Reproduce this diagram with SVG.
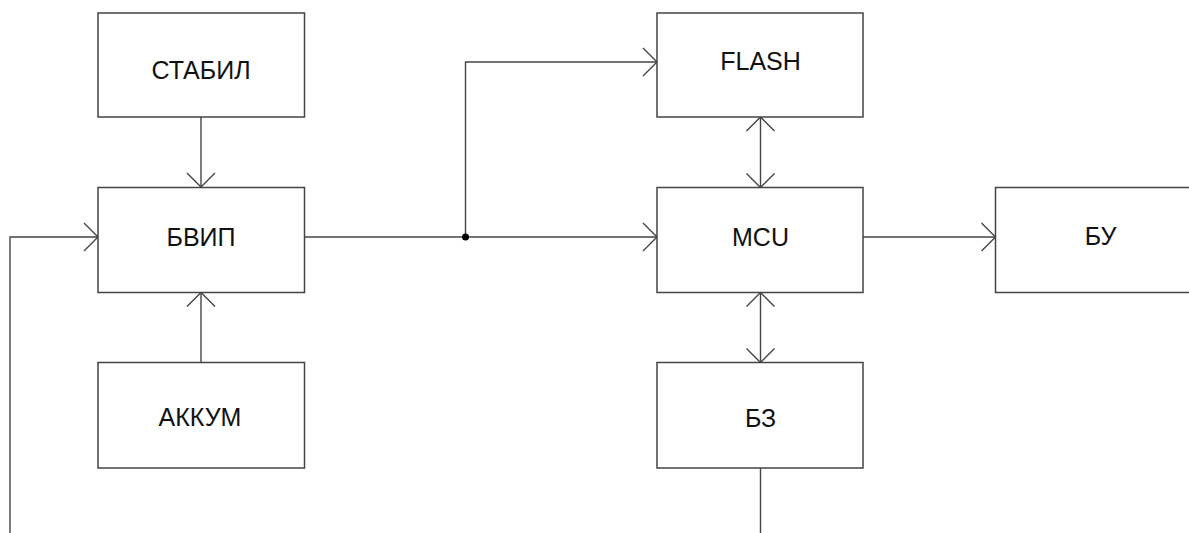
<svg xmlns="http://www.w3.org/2000/svg" width="1189" height="533" viewBox="0 0 1189 533">
<defs>
<style>
.box{fill:#fff;stroke:#444;stroke-width:1.5}
.lbl{font-family:"Liberation Sans",Arial,sans-serif;font-size:25px;fill:#111;text-anchor:middle}
.con{fill:none;stroke:#444;stroke-width:1.4}
</style>
<marker id="arr" markerUnits="userSpaceOnUse" markerWidth="32" markerHeight="32" viewBox="-16 -16 32 32" refX="0" refY="0" orient="auto-start-reverse">
<path d="M-14,-14 L0,0 L-14,14" fill="none" stroke="#444" stroke-width="1.4"/>
</marker>
</defs>
<rect width="1189" height="533" fill="#fff"/>
<g id="connectors">
<path class="con" d="M201,117 V187" marker-end="url(#arr)"/>
<path class="con" d="M201,362.5 V292.5" marker-end="url(#arr)"/>
<path class="con" d="M10,533 V237 H98" marker-end="url(#arr)"/>
<path class="con" d="M304.5,237 H657" marker-end="url(#arr)"/>
<path class="con" d="M465.5,237 V62 H657" marker-end="url(#arr)"/>
<circle cx="465.5" cy="237" r="3.5" fill="#000"/>
<path class="con" d="M760.5,117 V187.5" marker-start="url(#arr)" marker-end="url(#arr)"/>
<path class="con" d="M760.5,292.5 V362.5" marker-start="url(#arr)" marker-end="url(#arr)"/>
<path class="con" d="M863,237 H995.5" marker-end="url(#arr)"/>
<path class="con" d="M760.5,468 V533"/>
</g>
<g id="n-stabil"><rect class="box" x="98" y="13" width="206.5" height="104"/><text class="lbl" x="201" y="78.5">СТАБИЛ</text></g>
<g id="n-bvip"><rect class="box" x="98" y="187.5" width="206.5" height="105"/><text class="lbl" x="201" y="246">БВИП</text></g>
<g id="n-akkum"><rect class="box" x="98" y="362.5" width="206.5" height="105.5"/><text class="lbl" x="200" y="426">АККУМ</text></g>
<g id="n-flash"><rect class="box" x="657" y="13" width="206" height="104"/><text class="lbl" x="760.5" y="70">FLASH</text></g>
<g id="n-mcu"><rect class="box" x="657" y="187.5" width="206" height="105"/><text class="lbl" x="760.5" y="246">MCU</text></g>
<g id="n-bu"><rect class="box" x="995.5" y="187.5" width="210" height="105"/><text class="lbl" x="1100.5" y="244.5">БУ</text></g>
<g id="n-bz"><rect class="box" x="657" y="362.5" width="206" height="105.5"/><text class="lbl" x="760.5" y="426.5">БЗ</text></g>
</svg>
